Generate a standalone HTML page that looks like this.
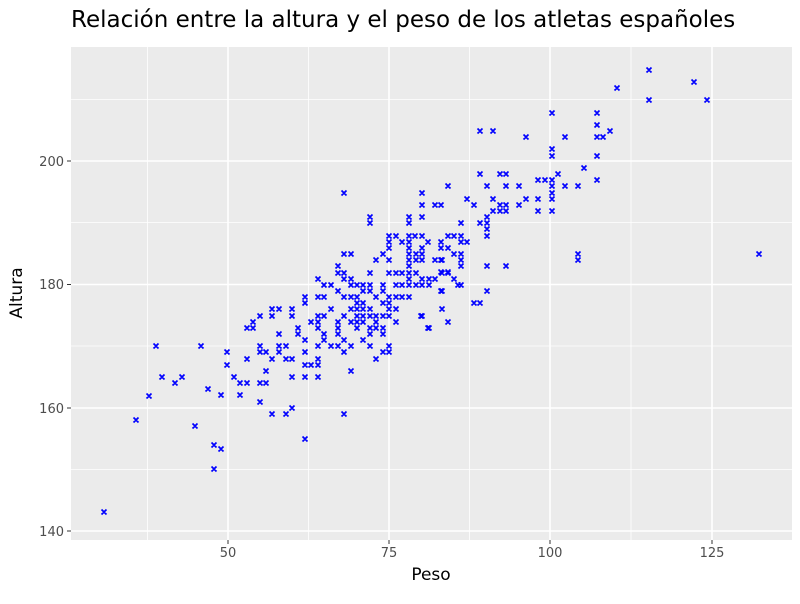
<!DOCTYPE html>
<html><head><meta charset="utf-8"><style>
body{margin:0;background:#fff;width:800px;height:600px;overflow:hidden;font-family:"DejaVu Sans",sans-serif}
</style></head><body>
<svg id="s" width="800" height="600" xmlns="http://www.w3.org/2000/svg" font-family="DejaVu Sans, sans-serif">
<rect x="71" y="47" width="721" height="493" fill="#ebebeb"/>
<g stroke="#fff" stroke-width="0.8">
<line x1="147.5" y1="47" x2="147.5" y2="540"/><line x1="308.5" y1="47" x2="308.5" y2="540"/><line x1="469.5" y1="47" x2="469.5" y2="540"/><line x1="631" y1="47" x2="631" y2="540"/>
<line x1="71" y1="99.5" x2="792" y2="99.5"/><line x1="71" y1="222.5" x2="792" y2="222.5"/><line x1="71" y1="346" x2="792" y2="346"/><line x1="71" y1="469.5" x2="792" y2="469.5"/>
</g>
<g stroke="#fff" stroke-width="1.6">
<line x1="228" y1="47" x2="228" y2="540"/><line x1="389" y1="47" x2="389" y2="540"/><line x1="550" y1="47" x2="550" y2="540"/><line x1="712" y1="47" x2="712" y2="540"/>
<line x1="71" y1="161" x2="792" y2="161"/><line x1="71" y1="284.5" x2="792" y2="284.5"/><line x1="71" y1="408" x2="792" y2="408"/><line x1="71" y1="531" x2="792" y2="531"/>
</g>
<g stroke="#333" stroke-width="1">
<line x1="228" y1="540" x2="228" y2="544"/><line x1="389" y1="540" x2="389" y2="544"/><line x1="550" y1="540" x2="550" y2="544"/><line x1="712" y1="540" x2="712" y2="544"/>
<line x1="67" y1="161" x2="71" y2="161"/><line x1="67" y1="284.5" x2="71" y2="284.5"/><line x1="67" y1="408" x2="71" y2="408"/><line x1="67" y1="531" x2="71" y2="531"/>
</g>
<g fill="#4d4d4d" font-size="13">
<text x="228" y="557" text-anchor="middle">50</text><text x="389" y="557" text-anchor="middle">75</text><text x="550" y="557" text-anchor="middle">100</text><text x="712" y="557" text-anchor="middle">125</text>
<text x="64" y="166" text-anchor="end">200</text><text x="64" y="289" text-anchor="end">180</text><text x="64" y="413" text-anchor="end">160</text><text x="64" y="536" text-anchor="end">140</text>
</g>
<text x="431" y="580" text-anchor="middle" font-size="17">Peso</text>
<text transform="translate(22,293) rotate(-90)" text-anchor="middle" font-size="17">Altura</text>
<text x="71" y="27" font-size="23">Relación entre la altura y el peso de los atletas españoles</text>
<g id="pts" stroke="#0000ff" stroke-width="1.7"></g>
</svg>
<script>
var p=[
[649,70],[694,82],[617,88],[649,100],[707,100],[552,113],[597,113],[597,125],[480,131],[493,131],[610,131],[526,137],[565,137],[597,137],[603,137],[552,149],[552,156],[597,156],[584,168],[480,174],[500,174],[506,174],[558,174],[538,180],[545,180],[552,180],[597,180],[448,186],[487,186],[506,186],[519,186],[552,186],[565,186],[578,186],[552,193],[467,199],[493,199],[526,199],[538,199],[552,199],[441,205],[474,205],[500,205],[506,205],[519,205],[493,211],[500,211],[506,211],[538,211],[552,211],[487,217],[461,223],[480,223],[487,223],[487,229],[448,236],[454,236],[461,236],[487,236],[441,242],[461,242],[467,242],[441,248],[448,248],[454,254],[461,254],[578,254],[759,254],[441,260],[461,260],[578,260],[461,266],[487,266],[506,266],[441,272],[448,272],[454,279],[461,285],[441,291],[487,291],[474,303],[480,303],
[344,254],[351,254],[383,254],[409,254],[416,254],[422,254],[376,260],[389,260],[409,260],[416,260],[422,260],[435,260],[442,260],[338,266],[409,266],[338,273],[344,273],[370,273],[389,273],[396,273],[402,273],[409,273],[416,273],[442,273],[448,273],[318,279],[344,279],[351,279],[409,279],[422,279],[429,279],[435,279],[454,279],[324,285],[331,285],[351,285],[357,285],[363,285],[370,285],[383,285],[396,285],[402,285],[409,285],[416,285],[422,285],[429,285],[458,285],[338,291],[363,291],[370,291],[383,291],[442,291],[305,297],[318,297],[324,297],[344,297],[351,297],[357,297],[376,297],[389,297],[396,297],[402,297],[409,297],[305,303],[357,303],[363,303],[383,303],[389,303],[272,309],[279,309],[292,309],[331,309],[351,309],[357,309],[363,309],[370,309],[389,309],[396,309],[442,309],[260,316],[272,316],[292,316],[318,316],[324,316],[344,316],[357,316],[363,316],[370,316],[376,316],[383,316],[389,316],[422,316],[253,322],[311,322],[318,322],[338,322],[351,322],[357,322],[363,322],[376,322],[396,322],[448,322],[247,328],[253,328],[298,328],[318,328],[338,328],[357,328],[370,328],[376,328],[383,328],[429,328],[279,334],[298,334],[324,334],[338,334],[370,334],[383,334],[305,340],[324,340],[344,340],[363,340],[201,346],[260,346],[279,346],[286,346],[318,346],[331,346],[338,346],[351,346],[370,346],[389,346],[227,352],[260,352],[266,352],[279,352],[305,352],[344,352],[383,352],[389,352],[247,359],[272,359],[286,359],[292,359],[318,359],[376,359],[227,365],[305,365],[311,365],[318,365],[266,371],[351,371],[234,377],[292,377],[305,377],[318,377],[240,383],[247,383],[260,383],[266,383],[208,389],[221,395],[240,395],[260,402],[292,408],[272,414],[286,414],[344,414],[305,439],[214,445],[221,449],
[344,193],[422,193],[422,205],[435,205],[441,205],[370,217],[370,223],[409,217],[409,223],[422,217],[389,236],[396,236],[409,236],[415,236],[422,236],[389,242],[402,242],[409,242],[428,242],[441,242],[389,248],[409,248],[422,248],[441,248],
[156,346],[162,377],[182,377],[175,383],[149,396],[136,420],[195,426],[214,469],[104,512],[421,316],[428,328]];
var g=document.getElementById('pts'),d='';
p.forEach(function(a){var x=a[0],y=a[1];d+='M'+(x-2.5)+' '+(y-2.5)+'L'+(x+2.5)+' '+(y+2.5)+'M'+(x-2.5)+' '+(y+2.5)+'L'+(x+2.5)+' '+(y-2.5);});
var e=document.createElementNS('http://www.w3.org/2000/svg','path');e.setAttribute('d',d);g.appendChild(e);
</script>
</body></html>
